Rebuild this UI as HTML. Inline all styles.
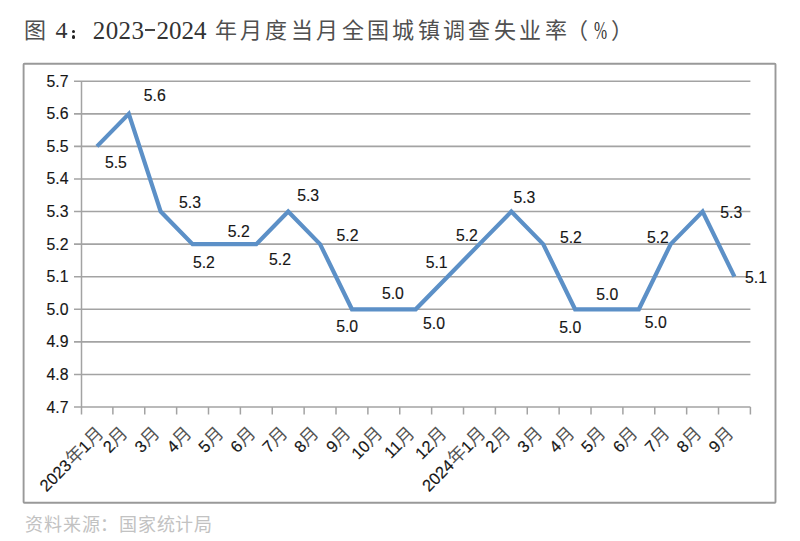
<!DOCTYPE html>
<html lang="zh-CN"><head><meta charset="utf-8">
<style>
html,body{margin:0;padding:0;background:#fff;}
body{width:800px;height:541px;overflow:hidden;position:relative;}
.tc,.td,.sc{position:absolute;white-space:nowrap;line-height:1;}
.tc{font-family:"Liberation Serif",serif;font-size:22px;color:#505050;}
.td{font-family:"Liberation Serif",serif;font-size:25px;color:#333;}
.sc{font-family:"Liberation Serif",serif;font-size:18px;color:#c2c2c2;}
svg{position:absolute;left:0;top:0;}
.n{font-family:"Liberation Sans",sans-serif;font-size:17.0px;fill:#161616;stroke:#161616;stroke-width:0.15px;}
.c{font-family:"Liberation Sans",sans-serif;font-size:16.5px;fill:#161616;stroke:#161616;stroke-width:0.15px;}
.cj{fill:#555;stroke:none;font-size:18.0px;}
</style></head><body>
<svg width="800" height="541" viewBox="0 0 800 541">
<rect x="23.6" y="63.7" width="751.9" height="439.1" rx="0.8" fill="#fff" stroke="#999" stroke-width="1.9"/>
<line x1="74" y1="81.25" x2="750.40" y2="81.25" stroke="#a3a3a3" stroke-width="1.6"/>
<text transform="translate(68.5 86.75) scale(0.93 1)" text-anchor="end" class="n">5.7</text>
<line x1="74" y1="113.83" x2="750.40" y2="113.83" stroke="#a3a3a3" stroke-width="1.6"/>
<text transform="translate(68.5 119.33) scale(0.93 1)" text-anchor="end" class="n">5.6</text>
<line x1="74" y1="146.40" x2="750.40" y2="146.40" stroke="#a3a3a3" stroke-width="1.6"/>
<text transform="translate(68.5 151.90) scale(0.93 1)" text-anchor="end" class="n">5.5</text>
<line x1="74" y1="178.97" x2="750.40" y2="178.97" stroke="#a3a3a3" stroke-width="1.6"/>
<text transform="translate(68.5 184.47) scale(0.93 1)" text-anchor="end" class="n">5.4</text>
<line x1="74" y1="211.55" x2="750.40" y2="211.55" stroke="#a3a3a3" stroke-width="1.6"/>
<text transform="translate(68.5 217.05) scale(0.93 1)" text-anchor="end" class="n">5.3</text>
<line x1="74" y1="244.12" x2="750.40" y2="244.12" stroke="#a3a3a3" stroke-width="1.6"/>
<text transform="translate(68.5 249.62) scale(0.93 1)" text-anchor="end" class="n">5.2</text>
<line x1="74" y1="276.70" x2="750.40" y2="276.70" stroke="#a3a3a3" stroke-width="1.6"/>
<text transform="translate(68.5 282.20) scale(0.93 1)" text-anchor="end" class="n">5.1</text>
<line x1="74" y1="309.27" x2="750.40" y2="309.27" stroke="#a3a3a3" stroke-width="1.6"/>
<text transform="translate(68.5 314.77) scale(0.93 1)" text-anchor="end" class="n">5.0</text>
<line x1="74" y1="341.85" x2="750.40" y2="341.85" stroke="#a3a3a3" stroke-width="1.6"/>
<text transform="translate(68.5 347.35) scale(0.93 1)" text-anchor="end" class="n">4.9</text>
<line x1="74" y1="374.43" x2="750.40" y2="374.43" stroke="#a3a3a3" stroke-width="1.6"/>
<text transform="translate(68.5 379.93) scale(0.93 1)" text-anchor="end" class="n">4.8</text>
<line x1="74" y1="407.00" x2="750.40" y2="407.00" stroke="#a3a3a3" stroke-width="1.6"/>
<text transform="translate(68.5 412.50) scale(0.93 1)" text-anchor="end" class="n">4.7</text>
<line x1="81.5" y1="81.25" x2="81.5" y2="414.5" stroke="#a3a3a3" stroke-width="1.5"/>
<line x1="112.88" y1="407.00" x2="112.88" y2="414.5" stroke="#a3a3a3" stroke-width="1.5"/>
<line x1="144.75" y1="407.00" x2="144.75" y2="414.5" stroke="#a3a3a3" stroke-width="1.5"/>
<line x1="176.63" y1="407.00" x2="176.63" y2="414.5" stroke="#a3a3a3" stroke-width="1.5"/>
<line x1="208.50" y1="407.00" x2="208.50" y2="414.5" stroke="#a3a3a3" stroke-width="1.5"/>
<line x1="240.38" y1="407.00" x2="240.38" y2="414.5" stroke="#a3a3a3" stroke-width="1.5"/>
<line x1="272.26" y1="407.00" x2="272.26" y2="414.5" stroke="#a3a3a3" stroke-width="1.5"/>
<line x1="304.13" y1="407.00" x2="304.13" y2="414.5" stroke="#a3a3a3" stroke-width="1.5"/>
<line x1="336.01" y1="407.00" x2="336.01" y2="414.5" stroke="#a3a3a3" stroke-width="1.5"/>
<line x1="367.89" y1="407.00" x2="367.89" y2="414.5" stroke="#a3a3a3" stroke-width="1.5"/>
<line x1="399.76" y1="407.00" x2="399.76" y2="414.5" stroke="#a3a3a3" stroke-width="1.5"/>
<line x1="431.64" y1="407.00" x2="431.64" y2="414.5" stroke="#a3a3a3" stroke-width="1.5"/>
<line x1="463.51" y1="407.00" x2="463.51" y2="414.5" stroke="#a3a3a3" stroke-width="1.5"/>
<line x1="495.39" y1="407.00" x2="495.39" y2="414.5" stroke="#a3a3a3" stroke-width="1.5"/>
<line x1="527.27" y1="407.00" x2="527.27" y2="414.5" stroke="#a3a3a3" stroke-width="1.5"/>
<line x1="559.14" y1="407.00" x2="559.14" y2="414.5" stroke="#a3a3a3" stroke-width="1.5"/>
<line x1="591.02" y1="407.00" x2="591.02" y2="414.5" stroke="#a3a3a3" stroke-width="1.5"/>
<line x1="622.90" y1="407.00" x2="622.90" y2="414.5" stroke="#a3a3a3" stroke-width="1.5"/>
<line x1="654.77" y1="407.00" x2="654.77" y2="414.5" stroke="#a3a3a3" stroke-width="1.5"/>
<line x1="686.65" y1="407.00" x2="686.65" y2="414.5" stroke="#a3a3a3" stroke-width="1.5"/>
<line x1="718.52" y1="407.00" x2="718.52" y2="414.5" stroke="#a3a3a3" stroke-width="1.5"/>
<line x1="750.40" y1="407.00" x2="750.40" y2="414.5" stroke="#a3a3a3" stroke-width="1.5"/>
<polyline points="96.94,146.40 128.81,113.83 160.69,211.55 192.57,244.12 224.44,244.12 256.32,244.12 288.20,211.55 320.07,244.12 351.95,309.28 383.82,309.28 415.70,309.28 447.58,276.70 479.45,244.12 511.33,211.55 543.20,244.12 575.08,309.28 606.96,309.28 638.83,309.28 670.71,244.12 702.59,211.55 734.46,276.70" fill="none" stroke="#5c90c7" stroke-width="4.2" stroke-linejoin="miter" stroke-linecap="butt"/>
<text transform="translate(115.88 168.25) scale(0.93 1)" text-anchor="middle" class="n">5.5</text>
<text transform="translate(154.70 100.90) scale(0.93 1)" text-anchor="middle" class="n">5.6</text>
<text transform="translate(190.00 208.25) scale(0.93 1)" text-anchor="middle" class="n">5.3</text>
<text transform="translate(203.88 267.50) scale(0.93 1)" text-anchor="middle" class="n">5.2</text>
<text transform="translate(238.75 237.00) scale(0.93 1)" text-anchor="middle" class="n">5.2</text>
<text transform="translate(280.00 264.50) scale(0.93 1)" text-anchor="middle" class="n">5.2</text>
<text transform="translate(308.12 200.50) scale(0.93 1)" text-anchor="middle" class="n">5.3</text>
<text transform="translate(347.50 240.75) scale(0.93 1)" text-anchor="middle" class="n">5.2</text>
<text transform="translate(347.12 331.75) scale(0.93 1)" text-anchor="middle" class="n">5.0</text>
<text transform="translate(392.88 299.25) scale(0.93 1)" text-anchor="middle" class="n">5.0</text>
<text transform="translate(434.00 329.25) scale(0.93 1)" text-anchor="middle" class="n">5.0</text>
<text transform="translate(436.62 268.00) scale(0.93 1)" text-anchor="middle" class="n">5.1</text>
<text transform="translate(466.88 240.75) scale(0.93 1)" text-anchor="middle" class="n">5.2</text>
<text transform="translate(524.38 203.25) scale(0.93 1)" text-anchor="middle" class="n">5.3</text>
<text transform="translate(570.88 243.00) scale(0.93 1)" text-anchor="middle" class="n">5.2</text>
<text transform="translate(570.30 333.40) scale(0.93 1)" text-anchor="middle" class="n">5.0</text>
<text transform="translate(607.25 300.00) scale(0.93 1)" text-anchor="middle" class="n">5.0</text>
<text transform="translate(655.80 328.00) scale(0.93 1)" text-anchor="middle" class="n">5.0</text>
<text transform="translate(657.88 243.00) scale(0.93 1)" text-anchor="middle" class="n">5.2</text>
<text transform="translate(731.25 218.00) scale(0.93 1)" text-anchor="middle" class="n">5.3</text>
<text transform="translate(756.00 283.00) scale(0.93 1)" text-anchor="middle" class="n">5.1</text>
<text transform="translate(104.49 434.50) rotate(-45) scale(1.0 1)" text-anchor="end" class="c">2023<tspan class="cj">年</tspan>1<tspan class="cj">月</tspan></text>
<text transform="translate(128.96 434.50) rotate(-45) scale(1.0 1)" text-anchor="end" class="c">2<tspan class="cj">月</tspan></text>
<text transform="translate(160.84 434.50) rotate(-45) scale(1.0 1)" text-anchor="end" class="c">3<tspan class="cj">月</tspan></text>
<text transform="translate(192.72 434.50) rotate(-45) scale(1.0 1)" text-anchor="end" class="c">4<tspan class="cj">月</tspan></text>
<text transform="translate(224.59 434.50) rotate(-45) scale(1.0 1)" text-anchor="end" class="c">5<tspan class="cj">月</tspan></text>
<text transform="translate(256.47 434.50) rotate(-45) scale(1.0 1)" text-anchor="end" class="c">6<tspan class="cj">月</tspan></text>
<text transform="translate(288.35 434.50) rotate(-45) scale(1.0 1)" text-anchor="end" class="c">7<tspan class="cj">月</tspan></text>
<text transform="translate(320.22 434.50) rotate(-45) scale(1.0 1)" text-anchor="end" class="c">8<tspan class="cj">月</tspan></text>
<text transform="translate(352.10 434.50) rotate(-45) scale(1.0 1)" text-anchor="end" class="c">9<tspan class="cj">月</tspan></text>
<text transform="translate(383.97 434.50) rotate(-45) scale(1.0 1)" text-anchor="end" class="c">10<tspan class="cj">月</tspan></text>
<text transform="translate(415.85 434.50) rotate(-45) scale(1.0 1)" text-anchor="end" class="c">11<tspan class="cj">月</tspan></text>
<text transform="translate(447.73 434.50) rotate(-45) scale(1.0 1)" text-anchor="end" class="c">12<tspan class="cj">月</tspan></text>
<text transform="translate(487.00 434.50) rotate(-45) scale(1.0 1)" text-anchor="end" class="c">2024<tspan class="cj">年</tspan>1<tspan class="cj">月</tspan></text>
<text transform="translate(511.48 434.50) rotate(-45) scale(1.0 1)" text-anchor="end" class="c">2<tspan class="cj">月</tspan></text>
<text transform="translate(543.35 434.50) rotate(-45) scale(1.0 1)" text-anchor="end" class="c">3<tspan class="cj">月</tspan></text>
<text transform="translate(575.23 434.50) rotate(-45) scale(1.0 1)" text-anchor="end" class="c">4<tspan class="cj">月</tspan></text>
<text transform="translate(607.11 434.50) rotate(-45) scale(1.0 1)" text-anchor="end" class="c">5<tspan class="cj">月</tspan></text>
<text transform="translate(638.98 434.50) rotate(-45) scale(1.0 1)" text-anchor="end" class="c">6<tspan class="cj">月</tspan></text>
<text transform="translate(670.86 434.50) rotate(-45) scale(1.0 1)" text-anchor="end" class="c">7<tspan class="cj">月</tspan></text>
<text transform="translate(702.74 434.50) rotate(-45) scale(1.0 1)" text-anchor="end" class="c">8<tspan class="cj">月</tspan></text>
<text transform="translate(734.61 434.50) rotate(-45) scale(1.0 1)" text-anchor="end" class="c">9<tspan class="cj">月</tspan></text>
</svg>
<span class="tc" style="left:24.25px;top:19.5px;">图</span>
<span class="td" style="left:55.5px;top:18.0px;font-size:24px">4</span>
<div style="position:absolute;left:71.5px;top:29.5px;width:3.6px;height:3.6px;border-radius:50%;background:#222"></div>
<div style="position:absolute;left:71.5px;top:35.4px;width:3.6px;height:3.6px;border-radius:50%;background:#222"></div>
<span class="td" style="left:92.75px;top:17.5px;letter-spacing:0.4px">2023</span>
<div style="position:absolute;left:144.7px;top:29.2px;width:10.5px;height:1.5px;background:#444"></div>
<span class="td" style="left:156.5px;top:17.5px;">2024</span>
<span class="tc" style="left:214.6px;top:19.5px;">年</span>
<span class="tc" style="left:239.98px;top:19.5px;">月</span>
<span class="tc" style="left:265.36px;top:19.5px;">度</span>
<span class="tc" style="left:290.74px;top:19.5px;">当</span>
<span class="tc" style="left:316.12px;top:19.5px;">月</span>
<span class="tc" style="left:341.5px;top:19.5px;">全</span>
<span class="tc" style="left:366.88px;top:19.5px;">国</span>
<span class="tc" style="left:392.26px;top:19.5px;">城</span>
<span class="tc" style="left:417.64px;top:19.5px;">镇</span>
<span class="tc" style="left:443.02px;top:19.5px;">调</span>
<span class="tc" style="left:468.4px;top:19.5px;">查</span>
<span class="tc" style="left:493.78px;top:19.5px;">失</span>
<span class="tc" style="left:519.16px;top:19.5px;">业</span>
<span class="tc" style="left:544.54px;top:19.5px;">率</span>
<span class="tc" style="left:566.0px;top:19.5px;">（</span>
<span class="td" style="left:593.75px;top:17.5px;font-size:25px;transform:scaleX(0.63);transform-origin:0 0">%</span>
<span class="tc" style="left:610.5px;top:19.5px;">）</span>
<span class="sc" style="left:25.25px;top:515.5px;">资</span>
<span class="sc" style="left:44.03px;top:515.5px;">料</span>
<span class="sc" style="left:62.81px;top:515.5px;">来</span>
<span class="sc" style="left:81.59px;top:515.5px;">源</span>
<span class="sc" style="left:100.37px;top:515.5px;">：</span>
<span class="sc" style="left:119.15px;top:515.5px;">国</span>
<span class="sc" style="left:137.93px;top:515.5px;">家</span>
<span class="sc" style="left:156.71px;top:515.5px;">统</span>
<span class="sc" style="left:175.49px;top:515.5px;">计</span>
<span class="sc" style="left:194.27px;top:515.5px;">局</span>
</body></html>
